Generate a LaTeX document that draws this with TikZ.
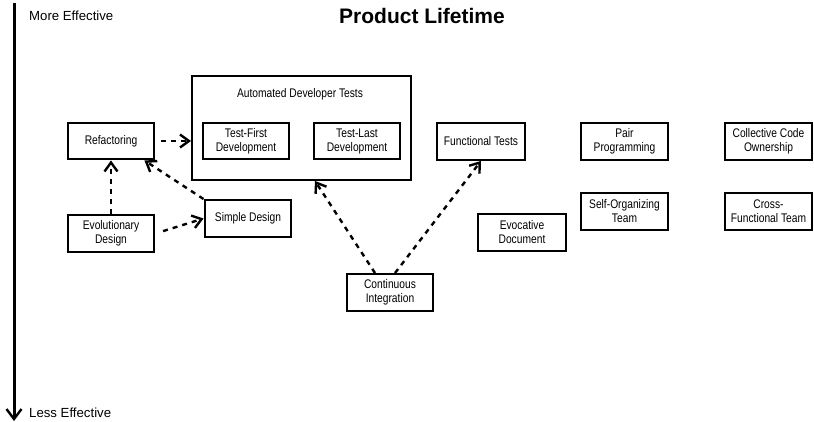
\documentclass[tikz,border=0pt]{standalone}
\usepackage{fontspec}
\setmainfont{Liberation Sans}
\newfontfamily\narrowfont[FakeStretch=0.82]{Liberation Sans}
\usetikzlibrary{arrows.meta,positioning,calc}

\tikzset{
  practice map/.style = {
    x = 1pt, y = -1pt,
    line width = 2.4pt,
    % Box
    pb/.style  = {
      draw, align=center,
      minimum width=86.5pt,
      minimum height=36.5pt,
      inner sep=1pt,
      font=\narrowfont\fontsize{12.5}{14}\selectfont
    },
    group box/.style = { draw, minimum width=218.5pt, minimum height=103.5pt },
    % Lines, arrows
    dep line/.style  = { line width=2.4pt, dash pattern=on 5pt off 5pt,
             -{Straight Barb[length=9pt,width=13pt,line width=2.4pt]} },
    axis line/.style = { line width=3pt,
             -{Straight Barb[length=10pt,width=15pt,line width=2.4pt]} },
    axis label/.style = { anchor=west, inner sep=0pt,
             font=\fontsize{13.2}{15}\selectfont },
  }
}

\begin{document}
\begin{tikzpicture}[practice map]
\useasboundingbox (0,0) rectangle (814,422);

% axis
\coordinate (top) at (14,3);
\coordinate (bottom) at (14,421);
\draw[axis line] (top) -- (bottom);
\node[axis label] (more) at (28,16) {More Effective};
\node[axis label] (less) at (28,413) {Less Effective};
\node[font=\bfseries\fontsize{21}{24}\selectfont] (title) at (422,16) {Product Lifetime};

% automated tests group
\node[group box] (auto) at (301.5,128) {};
\node[font=\narrowfont\fontsize{12.5}{14}\selectfont] (autolabel) at (300,94) {Automated Developer Tests};
\node[pb] (tfirst) at (246,141) {Test-First\\Development};
\node[pb] (tlast)  at (357,141) {Test-Last\\Development};

\node[pb] (refac)  at (111,141)   {Refactoring};
\node[pb] (evol)   at (111,233.5) {Evolutionary\\Design};
\node[pb] (simple) at (248,218.5) {Simple Design};
\node[pb] (ci)     at (390,292.5) {Continuous\\Integration};
\node[pb, minimum width=88pt] (func) at (481,141.5) {Functional Tests};
\node[pb] (pair)   at (624.5,141.5) {Pair\\Programming};
\node[pb] (coll)   at (768.5,141.5) {Collective Code\\Ownership};
\node[pb, minimum width=88pt] (evoc) at (522,232.5) {Evocative\\Document};
\node[pb] (self)   at (624.5,211.5) {Self-Organizing\\Team};
\node[pb] (cross)  at (768.5,211.5) {Cross-\\Functional Team};

% dependencies
\draw[dep line, shorten <=6pt] (refac.east) -- (auto.west |- refac.east);
\draw[dep line] (evol.north) -- (refac.south);
\draw[dep line] (simple.north west) -- ([xshift=-11pt]refac.south east);
\draw[dep line, shorten <=8pt] (evol.east) -- (simple.west);
\draw[dep line] ([xshift=-15pt]ci.north) -- ([xshift=13.5pt]auto.south);
\draw[dep line] ([xshift=5pt]ci.north) -- (func.south);

\end{tikzpicture}
\end{document}
